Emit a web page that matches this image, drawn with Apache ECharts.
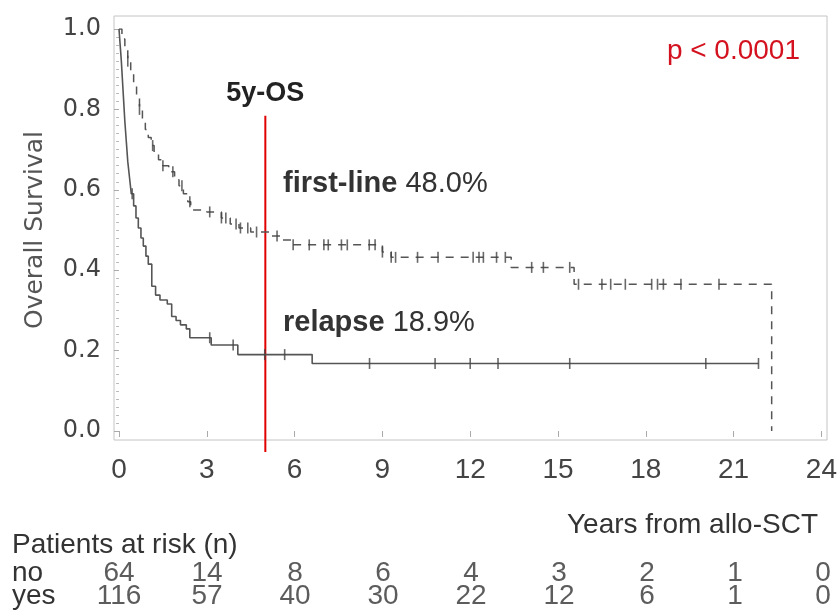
<!DOCTYPE html>
<html><head><meta charset="utf-8">
<script src="https://cdn.jsdelivr.net/npm/echarts@6/dist/echarts.min.js"></script>
<style>html,body{margin:0;padding:0;background:#fff}#c{width:840px;height:610px}</style>
</head><body><div id="c"></div>
<script>
// ---- data ----
const xTicks = [0, 3, 6, 9, 12, 15, 18, 21, 24];
const firstLineCurve = [[0,1],[0.1,0.975],[0.2,0.95],[0.3,0.92],[0.4,0.895],[0.5,0.86],[0.6,0.83],[0.7,0.8],[0.8,0.775],[0.9,0.75],[1.0,0.73],[1.1,0.71],[1.2,0.69],[1.35,0.675],[1.5,0.66],[1.7,0.645],[1.9,0.625],[2.05,0.61],[2.2,0.59],[2.35,0.57],[2.45,0.55],[3.0,0.545],[3.5,0.53],[3.8,0.515],[4.1,0.505],[4.5,0.495],[5.2,0.485],[5.5,0.475],[5.9,0.463],[9.0,0.445],[9.3,0.432],[13.4,0.407],[15.55,0.365],[22.3,0]];
const firstLineCensor = [[0.3,0.92],[0.7,0.8],[1.15,0.71],[1.5,0.66],[1.84,0.645],[2.15,0.61],[2.42,0.57],[3.1,0.545],[3.5,0.53],[3.65,0.53],[4.0,0.515],[4.15,0.505],[4.4,0.505],[4.7,0.495],[5.4,0.485],[5.95,0.463],[6.5,0.463],[7.0,0.463],[7.15,0.463],[7.6,0.463],[7.8,0.463],[8.55,0.463],[8.75,0.463],[9.0,0.445],[9.3,0.432],[9.45,0.432],[10.2,0.432],[10.9,0.432],[12.1,0.432],[12.3,0.432],[12.45,0.432],[12.9,0.432],[13.2,0.432],[14.1,0.407],[14.5,0.407],[15.4,0.407],[15.7,0.365],[16.5,0.365],[16.8,0.365],[17.3,0.365],[18.2,0.365],[18.4,0.365],[18.6,0.365],[19.2,0.365],[20.5,0.365]];
const relapseCurve = [[0,1],[0.04,0.96],[0.08,0.92],[0.12,0.87],[0.16,0.82],[0.2,0.77],[0.25,0.72],[0.3,0.67],[0.36,0.63],[0.42,0.59],[0.5,0.56],[0.58,0.53],[0.66,0.505],[0.75,0.48],[0.83,0.46],[0.92,0.435],[1.0,0.415],[1.12,0.36],[1.25,0.338],[1.4,0.326],[1.65,0.316],[1.8,0.285],[1.95,0.275],[2.1,0.264],[2.3,0.254],[2.42,0.232],[3.15,0.214],[4.06,0.19],[6.6,0.168],[21.85,0.168]];
const relapseCensor = [[0.45,0.59],[3.1,0.232],[3.9,0.214],[4.98,0.19],[5.66,0.19],[8.56,0.168],[10.8,0.168],[12.0,0.168],[12.95,0.168],[15.4,0.168],[20.05,0.168],[21.85,0.168]];
const riskRows = ['yes', 'no'];
const riskNo = [64, 14, 8, 6, 4, 3, 2, 1, 0];
const riskYes = [116, 57, 40, 30, 22, 12, 6, 1, 0];
const landmarkLine = [[5, -0.052], [5, 0.784]];
const osFirstLine = '48.0%';
const osRelapse = '18.9%';
const pText = 'p < 0.0001';

// ---- chart ----
const sans = "'Liberation Sans',Arial,sans-serif";
const dejavu = "'DejaVu Sans',sans-serif";
const riskData = [];
riskNo.forEach((v, i) => riskData.push([xTicks[i], 'no', v]));
riskYes.forEach((v, i) => riskData.push([xTicks[i], 'yes', v]));

const chart = echarts.init(document.getElementById('c'));
chart.setOption({
  animation: false,
  backgroundColor: '#fff',
  grid: [
    {left: 119, right: 17, top: 29, bottom: 179},
    {left: 114, right: 13, top: 16, bottom: 170, show: true, borderColor: '#c4c4c4', borderWidth: 1, backgroundColor: 'transparent'},
    {left: 119, right: 17, top: 562, bottom: -1}
  ],
  xAxis: [
    {gridIndex: 0, type: 'value', min: 0, max: 24, interval: 3, offset: 9,
     axisLine: {show: false}, splitLine: {show: false},
     axisTick: {show: true, length: 6, lineStyle: {color: '#aaa'}},
     axisLabel: {margin: 16, fontSize: 28, fontFamily: sans, color: '#444'}},
    {gridIndex: 1, type: 'value', show: false, min: 0, max: 1},
    {gridIndex: 2, type: 'value', show: false, min: 0, max: 24}
  ],
  yAxis: [
    {gridIndex: 0, type: 'value', min: 0, max: 1, interval: 0.2, offset: 5,
     axisLine: {show: false}, splitLine: {show: false},
     axisTick: {show: true, length: 5, lineStyle: {color: '#aaa'}},
     minorTick: {show: true, splitNumber: 10, length: 3, lineStyle: {color: '#bbb'}},
     axisLabel: {margin: 13, fontSize: 24, fontFamily: dejavu, color: '#444', padding: [5, 0, 0, 0], formatter: v => v.toFixed(1)},
     name: 'Overall Survival', nameLocation: 'middle', nameGap: 66,
     nameTextStyle: {fontSize: 25, fontFamily: dejavu, color: '#555'}},
    {gridIndex: 1, type: 'value', show: false, min: 0, max: 1},
    {gridIndex: 2, type: 'category', data: riskRows,
     axisLine: {show: false}, axisTick: {show: false},
     axisLabel: {interval: 0, align: 'left', margin: 107, fontSize: 28, fontFamily: sans, color: '#333'}}
  ],
  series: [
    {type: 'line', xAxisIndex: 0, yAxisIndex: 0, data: firstLineCurve, step: 'end', showSymbol: false,
     lineStyle: {color: '#555', width: 1.5, type: [8, 7]}, z: 3},
    {type: 'line', xAxisIndex: 0, yAxisIndex: 0, data: relapseCurve, step: 'end', showSymbol: false,
     lineStyle: {color: '#555', width: 1.6}, z: 3},
    {type: 'line', xAxisIndex: 0, yAxisIndex: 0, data: landmarkLine, showSymbol: false, clip: false,
     lineStyle: {color: '#e00000', width: 2}, z: 2,
     markPoint: {symbol: 'circle', symbolSize: 0, silent: true,
       label: {show: true, position: 'top', distance: 9, formatter: '5y-OS', fontSize: 27, fontWeight: 'bold', fontFamily: sans, color: '#222'},
       data: [{coord: landmarkLine[1]}]}},
    {type: 'scatter', xAxisIndex: 0, yAxisIndex: 0, data: firstLineCensor, symbol: 'rect', symbolSize: [1.6, 11],
     itemStyle: {color: '#444'}, z: 4},
    {type: 'scatter', xAxisIndex: 0, yAxisIndex: 0, data: relapseCensor, symbol: 'rect', symbolSize: [1.6, 11],
     itemStyle: {color: '#444'}, z: 4},
    {type: 'scatter', xAxisIndex: 2, yAxisIndex: 2, data: riskData, symbolSize: 0,
     label: {show: true, position: 'inside', formatter: p => String(p.value[2]), fontSize: 28, fontFamily: sans, color: '#333'}}
  ],
  graphic: [
    {type: 'text', left: 283, top: 169, style: {text: '{b|first-line} ' + osFirstLine, font: "29px 'Liberation Sans'", fill: '#333',
      rich: {b: {fontWeight: 'bold', fontSize: 29, fontFamily: sans, fill: '#333'}}}},
    {type: 'text', left: 283, top: 308, style: {text: '{b|relapse} ' + osRelapse, font: "29px 'Liberation Sans'", fill: '#333',
      rich: {b: {fontWeight: 'bold', fontSize: 29, fontFamily: sans, fill: '#333'}}}},
    {type: 'text', right: 40, top: 37, style: {text: pText, font: "28px 'Liberation Sans'", fill: '#d4121f'}},
    {type: 'text', right: 22, top: 511, style: {text: 'Years from allo-SCT', font: "28px 'Liberation Sans',sans-serif", fill: '#333'}},
    {type: 'text', left: 12, top: 531, style: {text: 'Patients at risk (n)', font: "28px 'Liberation Sans',sans-serif", fill: '#333'}}
  ]
});
</script></body></html>
